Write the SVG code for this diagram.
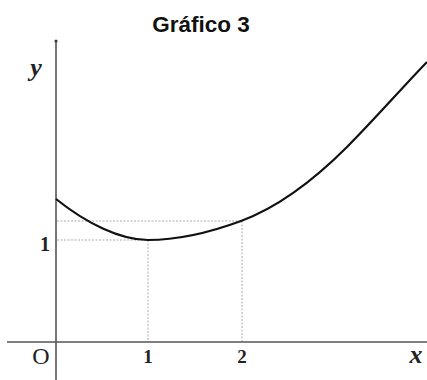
<svg xmlns="http://www.w3.org/2000/svg" width="427" height="380" viewBox="0 0 427 380">
<style>
.axis{stroke:#555;stroke-width:1.6;fill:none}
.dot{stroke:#aaa;stroke-width:1;stroke-dasharray:2 1.5;fill:none}
.curve{stroke:#111;stroke-width:2.2;fill:none}
.title{font-family:"Liberation Sans",Arial,sans-serif;font-weight:bold;font-size:22.5px;fill:#111}
.num{font-family:"Liberation Serif","Times New Roman",serif;font-weight:bold;font-size:19px;fill:#222}
.var{font-family:"Liberation Serif","Times New Roman",serif;font-style:italic;font-weight:bold;font-size:26px;fill:#222}
.o{font-family:"Liberation Serif","Times New Roman",serif;font-size:24px;fill:#222}
</style>
<rect width="427" height="380" fill="#fff"/>
<text class="title" x="201" y="32" text-anchor="middle">Gráfico 3</text>
<g id="guides">
<line class="dot" x1="57" y1="240" x2="148" y2="240"/>
<line class="dot" x1="57" y1="221" x2="242" y2="221"/>
<line class="dot" x1="148" y1="240" x2="148" y2="342"/>
<line class="dot" x1="242" y1="221" x2="242" y2="342"/>
</g>
<g id="axes">
<line class="axis" x1="56" y1="41" x2="56" y2="380"/>
<line class="axis" x1="7" y1="342" x2="427" y2="342"/>
<circle cx="56" cy="41" r="1.5" fill="#333"/>
</g>
<g id="curve">
<path class="curve" d="M56,199 C86,223 120,240 148,240 C179,240 208,233.2 241,221 C276,208 312,182 347,147 C374,120 400,90 427,62"/>
</g>
<g id="labels">
<text class="var" x="36" y="76" text-anchor="middle">y</text>
<text class="num" x="45" y="251" text-anchor="middle" style="font-size:20px">1</text>
<text class="o" x="41" y="364" text-anchor="middle">O</text>
<text class="num" x="148" y="363" text-anchor="middle">1</text>
<text class="num" x="242" y="363" text-anchor="middle">2</text>
<text class="var" x="416" y="363" text-anchor="middle">x</text>
</g>
</svg>
